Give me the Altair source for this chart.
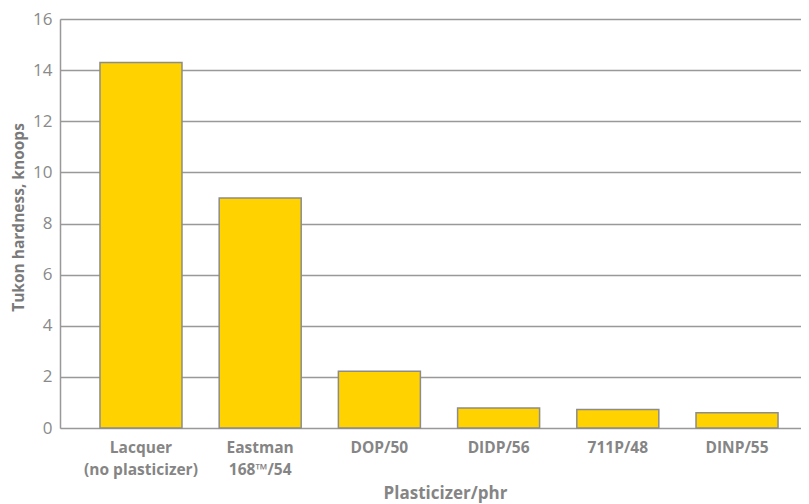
import altair as alt
import pandas as pd

categories = ["Lacquer\n(no plasticizer)", "Eastman\n168\u2122/54", "DOP/50", "DIDP/56", "711P/48", "DINP/55"]
hardness = [14.3, 9.0, 2.22, 0.78, 0.72, 0.60]
y_ticks = [0, 2, 4, 6, 8, 10, 12, 14, 16]

df = pd.DataFrame({"cat": categories, "val": hardness})

FONT = "Open Sans"
GRAY = "#858585"

chart = alt.Chart(df).mark_bar(
    color="#FFD200", stroke="#8c8c8c", strokeWidth=1.5
).encode(
    x=alt.X("cat:N", sort=categories, title="Plasticizer/phr",
            scale=alt.Scale(paddingInner=0.312, paddingOuter=0.264, align=0.635),
            axis=alt.Axis(labelAngle=0, labelExpr="split(datum.label, '\\n')",
                          labelFont=FONT, labelFontSize=15.5, labelFontWeight="bold",
                          labelColor=GRAY, labelLineHeight=22, labelPadding=12,
                          ticks=False, domain=False, grid=False,
                          titleFont=FONT, titleFontSize=17, titleFontWeight="bold",
                          titleColor=GRAY, titleX=385, titleY=70,
                          titleBaseline="alphabetic")),
    y=alt.Y("val:Q", title="Tukon hardness, knoops",
            scale=alt.Scale(domain=[0, 16], nice=False),
            axis=alt.Axis(values=y_ticks, labelFont=FONT, labelFontSize=17,
                          labelColor="#8a8a8a", labelPadding=8, ticks=False,
                          domain=True, domainColor="#999999", domainWidth=1.5,
                          grid=True, gridColor="#999999", gridWidth=1.5,
                          titleFont=FONT, titleFontSize=15.5, titleFontWeight="bold",
                          titleColor="#7a7a7a", titleX=-42, titleY=198,
                          titleBaseline="middle")),
).properties(
    width=741, height=409,
    autosize=alt.AutoSizeParams(type="none"),
    padding={"left": 52, "top": 11, "right": 0, "bottom": 76},
).configure_view(stroke=None).configure(background="white")

chart.save("out.html", embed_options={"renderer": "svg", "actions": False})
